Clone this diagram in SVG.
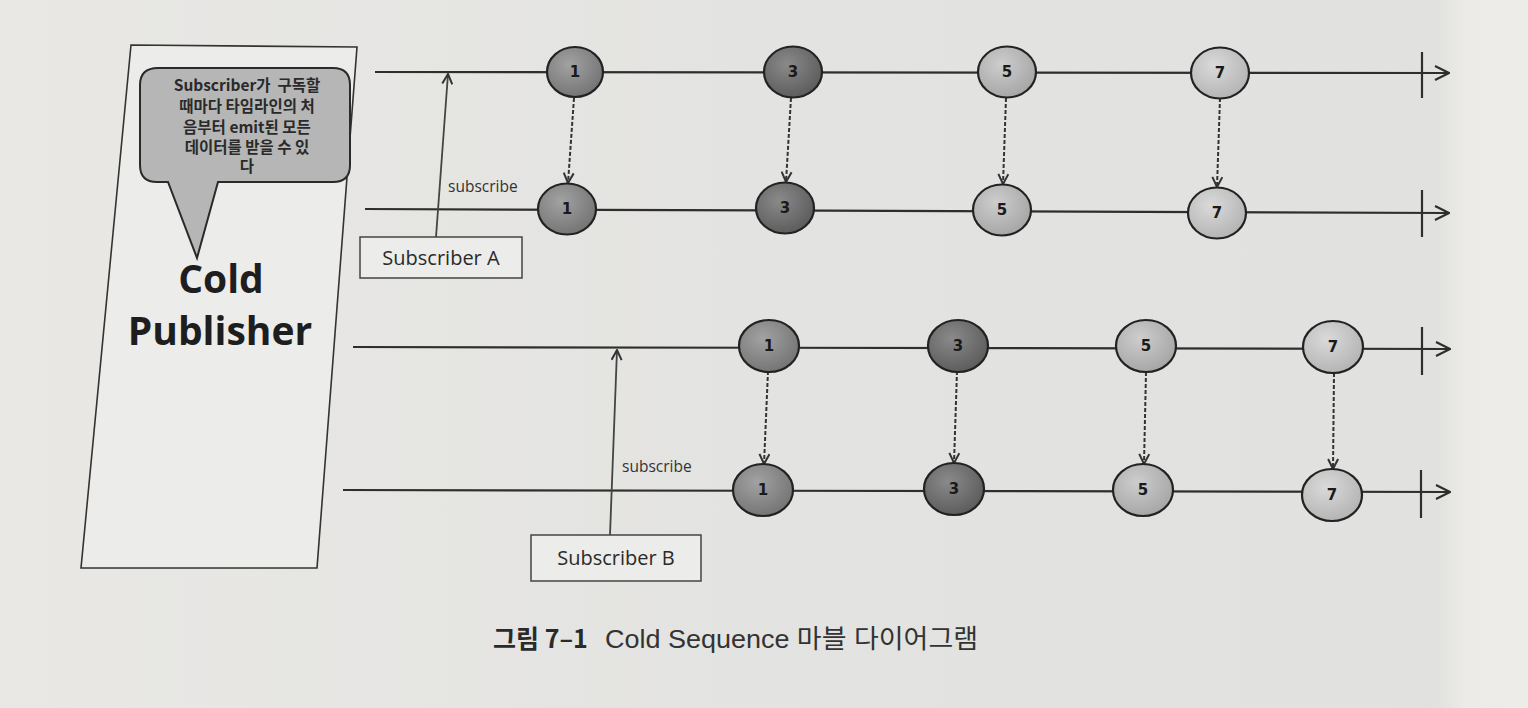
<svg xmlns="http://www.w3.org/2000/svg" width="1528" height="708" viewBox="0 0 1528 708">
<defs>
<style>
.tl{stroke:#2e2e2e;stroke-width:2.2;fill:none}
.tk{stroke:#2e2e2e;stroke-width:2.2}
.dash{stroke:#333;stroke-width:2;stroke-dasharray:4 2;fill:none}
.sub{stroke:#444;stroke-width:1.8;fill:none}
.ball{stroke:#222;stroke-width:2.2}
.num{font-family:"DejaVu Sans",sans-serif;font-weight:bold;font-size:15px;fill:#1a1a1a;text-anchor:middle}
.lbl{font-family:"Open Sans","Liberation Sans",sans-serif;font-size:20px;fill:#2a2a2a;text-anchor:middle}
.sm{font-family:"Open Sans","Liberation Sans",sans-serif;font-size:15.5px;fill:#333}
.bub{font-family:"Noto Sans CJK KR",sans-serif;font-weight:bold;font-size:15.5px;fill:#2a2a2a;text-anchor:middle}
.big{font-family:"Open Sans","Liberation Sans",sans-serif;font-weight:bold;font-size:39px;fill:#1e1e1e;text-anchor:middle}
.box{fill:#ececea;stroke:#333;stroke-width:1.6}
</style>
<radialGradient id="g1" cx="40%" cy="35%" r="70%"><stop offset="0" stop-color="#a2a2a2"/><stop offset="1" stop-color="#727272"/></radialGradient>
<radialGradient id="g3" cx="40%" cy="35%" r="70%"><stop offset="0" stop-color="#8a8a8a"/><stop offset="1" stop-color="#5a5a5a"/></radialGradient>
<radialGradient id="g5" cx="40%" cy="35%" r="70%"><stop offset="0" stop-color="#cdcdcd"/><stop offset="1" stop-color="#a4a4a4"/></radialGradient>
<radialGradient id="g7" cx="40%" cy="35%" r="70%"><stop offset="0" stop-color="#dadada"/><stop offset="1" stop-color="#b2b2b2"/></radialGradient>
<linearGradient id="bg" x1="0" y1="0" x2="1" y2="0"><stop offset="0" stop-color="#e9e8e5"/><stop offset="0.5" stop-color="#e3e3e1"/><stop offset="0.94" stop-color="#e1e1df"/><stop offset="0.96" stop-color="#ecebe7"/><stop offset="1" stop-color="#eeece8"/></linearGradient>
<marker id="open" viewBox="0 0 12 12" refX="11" refY="6" markerWidth="12" markerHeight="12" markerUnits="userSpaceOnUse" orient="auto"><path d="M1,1 L11,6 L1,11" fill="none" stroke="#333" stroke-width="2"/></marker>
<marker id="end" viewBox="0 0 16 16" refX="15" refY="8" markerWidth="16" markerHeight="16" markerUnits="userSpaceOnUse" orient="auto"><path d="M1,1 L15,8 L1,15" fill="none" stroke="#2e2e2e" stroke-width="2.2"/></marker>
</defs>
<rect width="1528" height="708" fill="url(#bg)"/>

<g id="cold-publisher">
<polygon class="box" points="131,45 357,47 317,568 81,568"/>
<path d="M158,68 H333 Q350,68 350,85 V165 Q350,182 333,182 H218 L197,258 L168,182 H157 Q140,182 140,165 V85 Q140,68 158,68 Z" fill="#b6b6b6" stroke="#2a2a2a" stroke-width="2"/>
<text class="bub" x="247" y="91" xml:space="preserve">Subscriber가  구독할</text>
<text class="bub" x="247" y="112">때마다 타임라인의 처</text>
<text class="bub" x="247" y="133">음부터 emit된 모든</text>
<text class="bub" x="247" y="153">데이터를 받을 수 있</text>
<text class="bub" x="247" y="172">다</text>
<text class="big" x="221" y="293">Cold</text>
<text class="big" x="220" y="345">Publisher</text>
</g>

<g id="connectors">
<line class="tl" x1="375" y1="72" x2="1449" y2="73" marker-end="url(#end)"/>
<line class="tk" x1="1422" y1="52" x2="1422" y2="98"/>
<line class="tl" x1="365" y1="209" x2="1449" y2="213" marker-end="url(#end)"/>
<line class="tk" x1="1422" y1="190" x2="1422" y2="237"/>
<line class="tl" x1="353" y1="347" x2="1450" y2="349" marker-end="url(#end)"/>
<line class="tk" x1="1422" y1="327" x2="1422" y2="375"/>
<line class="tl" x1="343" y1="490" x2="1450" y2="492" marker-end="url(#end)"/>
<line class="tk" x1="1421" y1="470" x2="1421" y2="518"/>

<line class="sub" x1="436" y1="237" x2="448" y2="74" marker-end="url(#open)"/>
<line class="sub" x1="610" y1="535" x2="617" y2="350" marker-end="url(#open)"/>

<line class="dash" x1="574" y1="98" x2="568" y2="183" marker-end="url(#open)"/>
<line class="dash" x1="791" y1="98" x2="786" y2="182" marker-end="url(#open)"/>
<line class="dash" x1="1006" y1="98" x2="1003" y2="184" marker-end="url(#open)"/>
<line class="dash" x1="1220" y1="98" x2="1217" y2="187" marker-end="url(#open)"/>
<line class="dash" x1="768" y1="371" x2="764" y2="464" marker-end="url(#open)"/>
<line class="dash" x1="957" y1="371" x2="954" y2="463" marker-end="url(#open)"/>
<line class="dash" x1="1146" y1="372" x2="1144" y2="464" marker-end="url(#open)"/>
<line class="dash" x1="1334" y1="373" x2="1333" y2="469" marker-end="url(#open)"/>
<text class="sm" x="448" y="192">subscribe</text>
<text class="sm" x="622" y="472">subscribe</text>
</g>

<g id="subscriber-a">
<rect x="360" y="237" width="162" height="41" fill="#ececea" stroke="#444" stroke-width="1.5"/>
<text class="lbl" x="441" y="265">Subscriber A</text>
</g>
<g id="subscriber-b">
<rect x="531" y="535" width="170" height="46" fill="#ececea" stroke="#444" stroke-width="1.5"/>
<text class="lbl" x="616" y="565">Subscriber B</text>
</g>

<g id="row1">
<ellipse class="ball" cx="575" cy="72" rx="28" ry="25" fill="url(#g1)"/><text class="num" x="575" y="77">1</text>
<ellipse class="ball" cx="793" cy="72" rx="29" ry="25.5" fill="url(#g3)"/><text class="num" x="793" y="77">3</text>
<ellipse class="ball" cx="1007" cy="72" rx="29" ry="25.5" fill="url(#g5)"/><text class="num" x="1007" y="77">5</text>
<ellipse class="ball" cx="1220" cy="73" rx="29" ry="25.5" fill="url(#g7)"/><text class="num" x="1220" y="78">7</text>
</g>
<g id="row2">
<ellipse class="ball" cx="567" cy="209" rx="29" ry="25.5" fill="url(#g1)"/><text class="num" x="567" y="214">1</text>
<ellipse class="ball" cx="785" cy="208" rx="29" ry="25.5" fill="url(#g3)"/><text class="num" x="785" y="213">3</text>
<ellipse class="ball" cx="1002" cy="210" rx="29" ry="25.5" fill="url(#g5)"/><text class="num" x="1002" y="215">5</text>
<ellipse class="ball" cx="1217" cy="213" rx="29" ry="25.5" fill="url(#g7)"/><text class="num" x="1217" y="218">7</text>
</g>
<g id="row3">
<ellipse class="ball" cx="769" cy="346" rx="30" ry="26" fill="url(#g1)"/><text class="num" x="769" y="351">1</text>
<ellipse class="ball" cx="958" cy="346" rx="30" ry="26" fill="url(#g3)"/><text class="num" x="958" y="351">3</text>
<ellipse class="ball" cx="1146" cy="346" rx="30" ry="26" fill="url(#g5)"/><text class="num" x="1146" y="351">5</text>
<ellipse class="ball" cx="1333" cy="347" rx="30" ry="26" fill="url(#g7)"/><text class="num" x="1333" y="352">7</text>
</g>
<g id="row4">
<ellipse class="ball" cx="763" cy="490" rx="30" ry="26" fill="url(#g1)"/><text class="num" x="763" y="495">1</text>
<ellipse class="ball" cx="954" cy="489" rx="30" ry="26" fill="url(#g3)"/><text class="num" x="954" y="494">3</text>
<ellipse class="ball" cx="1143" cy="490" rx="30" ry="26" fill="url(#g5)"/><text class="num" x="1143" y="495">5</text>
<ellipse class="ball" cx="1332" cy="495" rx="30" ry="26" fill="url(#g7)"/><text class="num" x="1332" y="500">7</text>
</g>

<g id="caption">
<text x="493" y="648" font-family="Noto Sans CJK KR, sans-serif" font-weight="bold" font-size="25" fill="#2a2a2a">그림 7–1</text>
<text x="605" y="648" font-family="Liberation Sans, Noto Sans CJK KR, sans-serif" font-size="26.5" fill="#333" textLength="373" lengthAdjust="spacingAndGlyphs">Cold Sequence 마블 다이어그램</text>
</g>
</svg>
